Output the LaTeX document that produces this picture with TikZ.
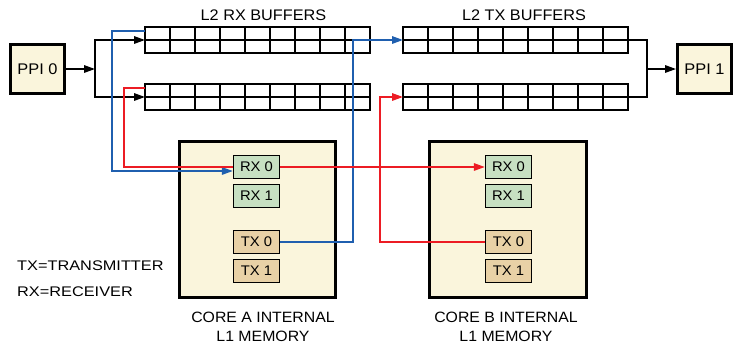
\documentclass[tikz,border=0pt]{standalone}
\usepackage{fontspec}
\setmainfont{Liberation Sans}[FakeStretch=1.06]
\newfontfamily\widefont{Liberation Sans}[FakeStretch=1.17]
\usetikzlibrary{arrows.meta,calc}
\definecolor{memfill}{HTML}{FAF5DC}
\definecolor{rxfill}{HTML}{C7E0C2}
\definecolor{txfill}{HTML}{E8D1A6}
\definecolor{linkblue}{HTML}{1F5FAF}
\definecolor{linkred}{HTML}{EC1C24}
\begin{document}
\begin{tikzpicture}[x=1bp,y=-1bp,
  every node/.style={font=\fontsize{14}{19}\selectfont, inner sep=0pt},
  port/.style={draw=black,line width=3bp,fill=memfill,minimum width=54bp,minimum height=49bp,
    font=\fontsize{15.5}{19}\selectfont},
  core/.style={draw=black,line width=3bp,fill=memfill,minimum height=156bp},
  buffer/.style={draw=black,line width=1.6bp,outer sep=0pt,minimum width=225bp,minimum height=26bp},
  bufline/.style={draw=black,line width=1.6bp},
  rxq/.style={draw=black,line width=1.4bp,fill=rxfill,minimum width=46bp,minimum height=23bp},
  txq/.style={draw=black,line width=1.4bp,fill=txfill,minimum width=46bp,minimum height=23bp},
  link/.style={line width=1.6bp,-{Triangle[length=11bp,width=7.5bp]}},
  plainlink/.style={line width=1.6bp},
  title/.style={font=\fontsize{15.4}{19}\selectfont},
  caption/.style={align=center,font=\fontsize{15}{19}\selectfont},
  legend/.style={anchor=west,font=\widefont\fontsize{14}{19}\selectfont}
]
\useasboundingbox (0,0) rectangle (735,346);

% PPI ports
\node[port] (ppi0) at (37.5,69) {PPI 0};
\node[port] (ppi1) at (704.5,69) {PPI 1};

% L2 buffers: 9 slots, two rows each
\node[buffer] (rxtop) at (257.5,40) {};
\node[buffer] (rxbot) at (257.5,97) {};
\node[buffer] (txtop) at (515.5,40) {};
\node[buffer] (txbot) at (515.5,97) {};
\foreach \b in {rxtop,rxbot,txtop,txbot}{
  \draw[bufline] (\b.west) -- (\b.east);
  \foreach \i in {1,...,8}
    \draw[bufline] ($(\b.north west)!\i/9!(\b.north east)$) -- ($(\b.south west)!\i/9!(\b.south east)$);
}
\node[title] (rxlabel) at (263.5,15) {L2 RX BUFFERS};
\node[title] (txlabel) at (524,15) {L2 TX BUFFERS};

% Core L1 memories
\node[core,minimum width=156bp] (coreA) at (257.5,219.5) {};
\node[core,minimum width=157bp] (coreB) at (508,219.5) {};
\node[rxq] (arx0) at (256.5,167) {RX 0};
\node[rxq] (arx1) at (256.5,196) {RX 1};
\node[txq] (atx0) at (256.5,242) {TX 0};
\node[txq] (atx1) at (256.5,271) {TX 1};
\node[rxq] (brx0) at (508.5,167) {RX 0};
\node[rxq] (brx1) at (508.5,196) {RX 1};
\node[txq] (btx0) at (508.5,242) {TX 0};
\node[txq] (btx1) at (508.5,271) {TX 1};
\node[caption] (capA) at (263,326.5) {CORE A INTERNAL\\L1 MEMORY};
\node[caption] (capB) at (506,326.5) {CORE B INTERNAL\\L1 MEMORY};

% Legend
\node[legend] (legtx) at (17,266) {TX=TRANSMITTER};
\node[legend] (legrx) at (17,292) {RX=RECEIVER};

% Fork and bend points
\coordinate (fork0) at (95,69);
\coordinate (fork1) at (647,69);
\coordinate (bendA) at (353,40);
\coordinate (bendB) at (380,97);

% PPI 0 into the receive buffers
\draw[link] (ppi0) -- (fork0);
\draw[link] (fork0) |- (rxtop.west);
\draw[link] (fork0) |- (rxbot.west);

% Transmit buffers out to PPI 1
\draw[plainlink] (txtop.east) -| (fork1);
\draw[plainlink] (txbot.east) -| (fork1);
\draw[link] (fork1) -- (ppi1);

% Core A path (blue)
\draw[link,linkblue] ([yshift=9bp]rxtop.west) -- ++(-33,0) |- ([yshift=-4bp]arx0.west);
\draw[link,linkblue] (atx0.east) -| (bendA) -- (txtop.west);

% Core B path (red)
\draw[plainlink,linkred] ([yshift=9bp]rxbot.west) -- ++(-21,0) |- (arx0.west);
\draw[link,linkred] (arx0.east) -- (brx0.west);
\draw[link,linkred] (btx0.west) -| (bendB) -- (txbot.west);
\end{tikzpicture}
\end{document}
